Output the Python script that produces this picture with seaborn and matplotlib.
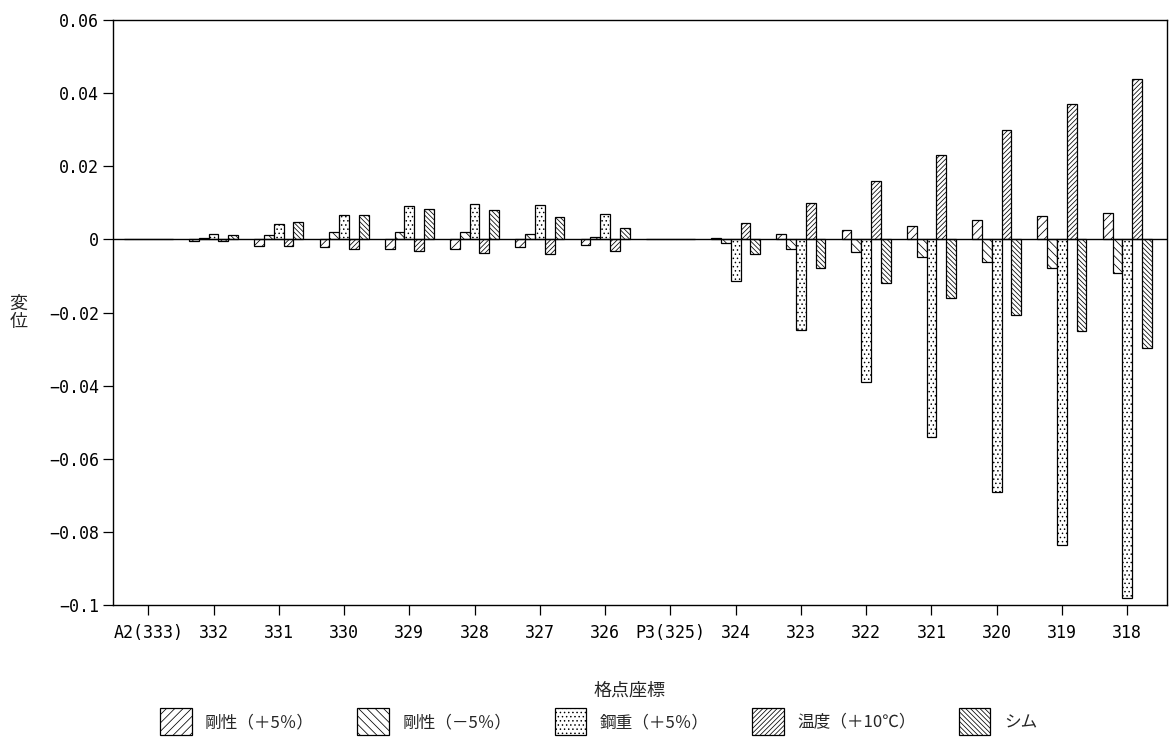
import matplotlib
matplotlib.use('Agg')
import matplotlib.pyplot as plt
from matplotlib.patches import Patch
import pandas as pd
import seaborn as sns

# grid points along the girder (left to right)
points = ['A2(333)', '332', '331', '330', '329', '328', '327', '326', 'P3(325)',
          '324', '323', '322', '321', '320', '319', '318']

# displacement for each load case
stiff_plus = [0, -0.0005, -0.0018, -0.0021, -0.0026, -0.0026, -0.0021, -0.0015, 0,
              0.0005, 0.0015, 0.0027, 0.0038, 0.0052, 0.0064, 0.0072]
stiff_minus = [0, 0.0005, 0.0013, 0.0019, 0.0020, 0.0020, 0.0016, 0.0006, 0,
               -0.0010, -0.0025, -0.0034, -0.0047, -0.0061, -0.0078, -0.0092]
steel_weight = [0, 0.0014, 0.0041, 0.0068, 0.0091, 0.0098, 0.0093, 0.0070, 0,
                -0.0115, -0.0247, -0.0390, -0.0540, -0.0690, -0.0836, -0.0980]
temperature = [0, -0.0005, -0.0018, -0.0026, -0.0032, -0.0037, -0.0039, -0.0032, 0,
               0.0046, 0.0101, 0.0160, 0.0230, 0.0300, 0.0370, 0.0438]
shim = [0, 0.0013, 0.0047, 0.0068, 0.0082, 0.0080, 0.0061, 0.0032, 0,
        -0.0040, -0.0077, -0.0118, -0.0160, -0.0206, -0.0250, -0.0296]

cases = ['剛性（＋5％）', '剛性（－5％）', '鋼重（＋5％）', '温度（＋10℃）', 'シム']
hatches = ['////', '\\\\\\\\', '....', '///////', '\\\\\\\\\\\\\\']

series = [stiff_plus, stiff_minus, steel_weight, temperature, shim]
df = pd.concat([pd.DataFrame({'point': points, 'value': v, 'case': c})
                for c, v in zip(cases, series)], ignore_index=True)

y_ticks = [0.06, 0.04, 0.02, 0, -0.02, -0.04, -0.06, -0.08, -0.1]
y_labels = ['0.06', '0.04', '0.02', '0', '−0.02', '−0.04', '−0.06', '−0.08', '−0.1']

sns.set_style('ticks')
plt.rcParams['font.family'] = ['Noto Sans CJK JP', 'DejaVu Sans']
plt.rcParams['hatch.linewidth'] = 0.55
plt.rcParams['hatch.color'] = 'black'

fig = plt.figure(figsize=(11.69, 7.45), dpi=100)
ax = fig.add_axes([0.0967, 0.188, 0.9016, 0.785])

sns.barplot(data=df, x='point', y='value', hue='case', order=points, hue_order=cases,
            width=0.75, dodge=True, ax=ax, legend=False, errorbar=None)

for bars, h in zip(ax.containers, hatches):
    for b in bars:
        b.set_facecolor('white')
        b.set_edgecolor('black')
        b.set_linewidth(0.9)
        b.set_hatch(h)

ax.axhline(0, color='black', lw=1.0, zorder=3)
ax.set_xlim(-0.54, 15.61)
ax.set_ylim(-0.1, 0.06)
ax.set_yticks(y_ticks)
ax.set_yticklabels(y_labels)

for sp in ax.spines.values():
    sp.set_visible(True)
    sp.set_color('black')
    sp.set_linewidth(1.0)

ax.tick_params(axis='both', direction='out', length=7, width=0.9, colors='black')
ax.tick_params(axis='x', pad=6.5)
ax.tick_params(axis='y', pad=3)
for lab in ax.get_xticklabels() + ax.get_yticklabels():
    lab.set_family(['DejaVu Sans Mono', 'Noto Sans CJK JP'])
    lab.set_fontsize(12)

ax.set_xlabel('格点座標', fontsize=13)
ax.xaxis.set_label_coords(0.49, -0.147)
ax.xaxis.label.set_va('center')
ax.set_ylabel('変\n位', fontsize=13, rotation=0, linespacing=1.0)
ax.yaxis.set_label_coords(-0.09, 0.5)
ax.yaxis.label.set_va('center')

handles = [Patch(facecolor='white', edgecolor='black', hatch=h, linewidth=0.9)
           for h in hatches]
fig.legend(handles, cases, loc='center', bbox_to_anchor=(0.512, 0.031), ncol=5,
           frameon=False, fontsize=12, handlelength=1.9, handleheight=2.1,
           handletextpad=0.8, columnspacing=2.6)

fig.savefig('out.png', dpi=100)
